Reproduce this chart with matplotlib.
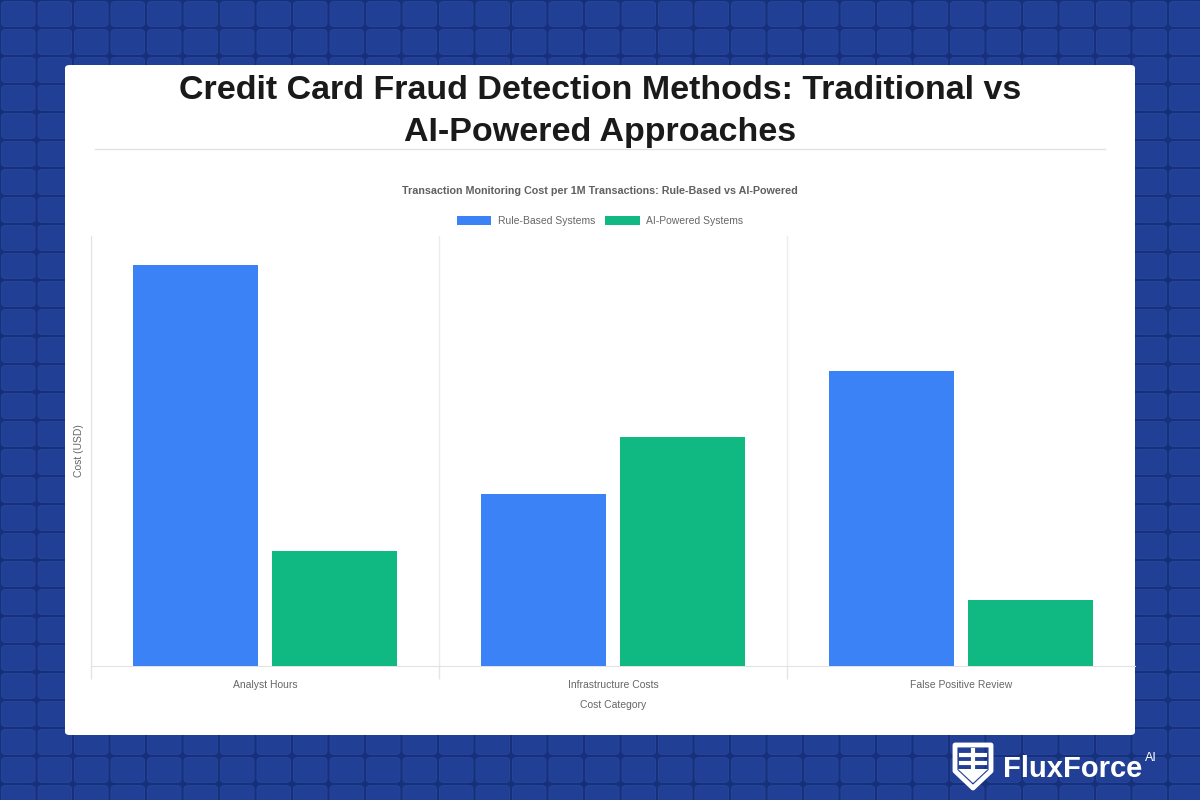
import matplotlib
matplotlib.use("Agg")
import matplotlib.pyplot as plt
from matplotlib.patches import FancyBboxPatch, Polygon
from matplotlib.lines import Line2D
import numpy as np

plt.rcParams['font.family'] = ['Liberation Sans', 'DejaVu Sans']

# ---- data ----
categories = ["Analyst Hours", "Infrastructure Costs", "False Positive Review"]
rule_based = [14000, 6000, 10300]
ai_powered = [4000, 8000, 2300]
series_names = ["Rule-Based Systems", "AI-Powered Systems"]
title = "Credit Card Fraud Detection Methods: Traditional vs\nAI-Powered Approaches"
subtitle = "Transaction Monitoring Cost per 1M Transactions: Rule-Based vs AI-Powered"

W, H = 1200, 800
fig = plt.figure(figsize=(12, 8), dpi=100)
fig.patch.set_facecolor("#17307a")

def fx(x): return x / W
def fy(y): return 1 - y / H

# background tiles
tile_w, tile_h = 36.5, 28.0
for i in range(-1, 34):
    for j in range(-1, 30):
        x0 = i * tile_w + 1.5
        y0 = j * tile_h + 1.5
        p = FancyBboxPatch((fx(x0), fy(y0 + tile_h - 3)), fx(tile_w - 3), (tile_h - 3) / H,
                           boxstyle="round,pad=0,rounding_size=0.004",
                           transform=fig.transFigure, facecolor="#213f94",
                           edgecolor="#2746a0", lw=0.6, zorder=0)
        fig.patches.append(p)

# white card
card = FancyBboxPatch((fx(65), fy(735)), fx(1070), 670 / H,
                      boxstyle="round,pad=0,rounding_size=0.004",
                      transform=fig.transFigure, facecolor="white",
                      edgecolor="none", zorder=1)
fig.patches.append(card)

fig.text(0.5, fy(111.5), title, ha="center", va="center", fontsize=24.5,
         fontweight="bold", color="#1a1a1a", linespacing=1.42, zorder=3)
fig.add_artist(Line2D([fx(95), fx(1105)], [fy(149), fy(149)], color="#e2e2e2",
                      lw=1, transform=fig.transFigure, zorder=3))
fig.text(0.5, fy(191), subtitle, ha="center", va="center", fontsize=7.75,
         fontweight="bold", color="#606060", zorder=3)

# axes
ax = fig.add_axes([fx(91), fy(666), fx(1135) - fx(91), (666 - 236) / H])
ax.set_zorder(4)
ax.patch.set_alpha(0)
x = np.arange(len(categories))
b1 = ax.bar(x - 0.2, rule_based, width=0.36, color="#3b82f6", label=series_names[0], zorder=3)
b2 = ax.bar(x + 0.2, ai_powered, width=0.36, color="#10b981", label=series_names[1], zorder=3)
ax.set_xlim(-0.5, 2.5)
ax.set_ylim(0, 15000)
ax.set_yticks([])
ax.set_xticks(x)
ax.set_xticklabels(categories, fontsize=7.5, color="#666666")
ax.tick_params(axis="x", length=0, pad=10)
ax.set_xticks([-0.5, 0.5, 1.5], minor=True)
ax.tick_params(axis="x", which="minor", length=9, color="#e5e5e5", width=1)
ax.grid(axis="x", which="minor", color="#ececec", lw=1, zorder=0)
ax.grid(axis="x", which="major", visible=False)
for s in ["top", "right"]:
    ax.spines[s].set_visible(False)
ax.spines["left"].set_color("#e2e2e2")
ax.spines["bottom"].set_color("#e2e2e2")
ax.set_xlabel("Cost Category", fontsize=7.5, color="#666666", labelpad=7)
ax.set_ylabel("Cost (USD)", fontsize=7.5, color="#666666", labelpad=5)

leg = fig.legend(handles=[b1, b2], loc="center", bbox_to_anchor=(0.5, fy(221)),
                 ncol=2, frameon=False, fontsize=7.5, handlelength=3.3,
                 handleheight=0.85, columnspacing=1.0, handletextpad=0.6)
for t in leg.get_texts():
    t.set_color("#666666")

# logo
sx, sy = 955, 745
shield = Polygon([[fx(sx), fy(sy)], [fx(sx + 36), fy(sy)], [fx(sx + 36), fy(sy + 26)],
                  [fx(sx + 18), fy(sy + 43)], [fx(sx), fy(sy + 26)]],
                 closed=True, transform=fig.transFigure, facecolor="none",
                 edgecolor="white", lw=3.5, joinstyle="round", zorder=5)
fig.patches.append(shield)
lower = Polygon([[fx(sx + 3), fy(sy + 24)], [fx(sx + 33), fy(sy + 24)],
                 [fx(sx + 18), fy(sy + 38)]], closed=True, transform=fig.transFigure,
                facecolor="white", edgecolor="none", zorder=5)
fig.patches.append(lower)
fig.add_artist(Line2D([fx(sx + 6), fx(sx + 30)], [fy(sy + 10), fy(sy + 10)], color="white",
                      lw=3, transform=fig.transFigure, zorder=5))
fig.add_artist(Line2D([fx(sx + 6), fx(sx + 30)], [fy(sy + 18), fy(sy + 18)], color="white",
                      lw=3, transform=fig.transFigure, zorder=5))
fig.add_artist(Line2D([fx(sx + 18), fx(sx + 18)], [fy(sy + 5), fy(sy + 24)], color="white",
                      lw=3, transform=fig.transFigure, zorder=5))
fig.text(fx(1003), fy(769), "FluxForce", ha="left", va="center", fontsize=21,
         fontweight="bold", color="white", zorder=5)
fig.text(fx(1145), fy(758), "AI", ha="left", va="center", fontsize=9,
         color="white", zorder=5)

fig.savefig("out.png", dpi=100, facecolor=fig.get_facecolor())
